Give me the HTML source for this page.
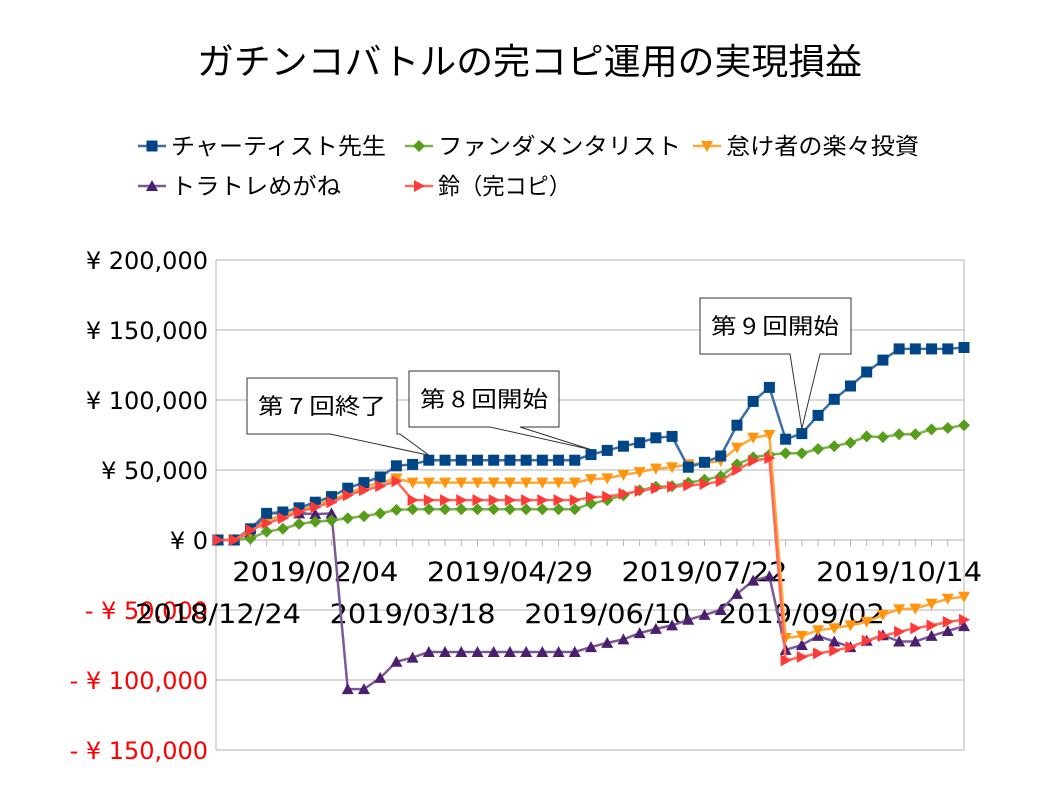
<!DOCTYPE html>
<html><head><meta charset="utf-8">
<style>
body{margin:0;background:#fff;}
svg{display:block;font-family:"DejaVu Sans","Noto Sans CJK JP",sans-serif;}
</style></head>
<body>
<svg id="chart" width="1058" height="794" viewBox="0 0 1058 794" xmlns="http://www.w3.org/2000/svg">
<rect width="1058" height="794" fill="#fff"/>
<text x="197" y="74" font-size="36" textLength="665" lengthAdjust="spacingAndGlyphs" font-family="Noto Sans CJK JP, sans-serif">ガチンコバトルの完コピ運用の実現損益</text>
<g id="legend"></g>
<g id="grid"></g>
<g id="series"></g>
<g id="callouts"></g>
</svg>
<script>
const seriesNames = ["チャーティスト先生","ファンダメンタリスト","怠け者の楽々投資","トラトレめがね","鈴（完コピ）"];
const chartist = [0,0,8000,19000,20000,23000,27000,31000,37000,41000,45000,53000,54000,57000,57000,57000,57000,57000,57000,57000,57000,57000,57000,61000,64000,67000,69500,73000,74000,52000,55500,60000,82000,99000,109000,72000,76000,89000,100500,110000,120000,128500,136500,136500,136500,136500,137500];
const fundamental = [0,0,1000,6000,8000,11500,13000,14000,15500,17000,19000,21500,22000,22000,22000,22000,22000,22000,22000,22000,22000,22000,22000,26000,28500,32000,35500,38000,38500,41000,43000,45500,54000,59000,61000,62000,62000,65000,67000,69500,74000,73500,75500,75500,79000,80000,82000];
const lazy = [0,0,6000,14000,18000,21000,25000,29000,33000,38000,41000,44000,41000,41000,41000,41000,41000,41000,41000,41000,41000,41000,41000,43500,44000,46500,48500,51000,52000,54000,55000,56500,66000,73000,75000,-70000,-68500,-64500,-63000,-61000,-58500,-53500,-49500,-49000,-45500,-42000,-40500];
const toratore = [0,0,5000,19000,19000,19000,18500,19000,-106500,-106500,-98500,-87000,-84000,-80000,-80000,-80000,-80000,-80000,-80000,-80000,-80000,-80000,-80000,-76500,-73500,-71000,-66500,-63500,-61000,-57000,-53500,-50000,-38500,-29000,-26000,-78500,-75000,-68500,-72500,-76500,-72000,-68000,-72500,-72500,-68500,-65000,-61500];
const suzu = [0,0,7000,12000,15500,20000,23500,27000,32000,35500,38500,42000,28500,28500,28500,28500,28500,28500,28500,28500,28500,28500,28500,30500,31000,33000,35000,37000,38000,39000,40000,42000,50000,56500,58500,-86000,-83500,-81000,-79000,-76500,-72000,-68500,-65500,-63000,-61000,-58500,-57000];
const yTicks = [200000,150000,100000,50000,0,-50000,-100000,-150000];
const yTickLabels = ["¥ 200,000","¥ 150,000","¥ 100,000","¥ 50,000","¥ 0","- ¥ 50,000","- ¥ 100,000","- ¥ 150,000"];
const xLabelIdx = [0,6,12,18,24,30,36,42];
const xLabels = ["2018/12/24","2019/02/04","2019/03/18","2019/04/29","2019/06/10","2019/07/22","2019/09/02","2019/10/14"];
const calloutText = ["第 7 回終了","第 8 回開始","第 9 回開始"];
const calloutIdx = [13,23,36];

const NS="http://www.w3.org/2000/svg";
const X0=218, X1=964, PL=216, PT=260, PB=750;
const N=chartist.length;
function xs(i){return X0+(X1-X0)*i/(N-1);}
function ys(v){return 540-(v/50000)*70;}
function mk(tag,attrs,parent){const e=document.createElementNS(NS,tag);for(const k in attrs)e.setAttribute(k,attrs[k]);parent.appendChild(e);return e;}
const grid=document.getElementById('grid');
yTicks.forEach((v,k)=>{
  const l=mk('line',{x1:PL,x2:X1,y1:ys(v),y2:ys(v),stroke:'#b3b3b3','stroke-width':1},grid);
  
  
  const t=mk('text',{x:208,y:ys(v)+9,'font-size':24,'text-anchor':'end',fill:v<0?'#ff0000':'#000'},grid);
  t.textContent=yTickLabels[k];
  
  
});
const ax=mk('line',{x1:PL,x2:PL,y1:PT,y2:PB,stroke:'#b3b3b3','stroke-width':1},grid);


const ax2=mk('line',{x1:X1,x2:X1,y1:PT,y2:PB,stroke:'#b3b3b3','stroke-width':1},grid);


for(let i=0;i<N;i++){
  const t=mk('line',{x1:xs(i),x2:xs(i),y1:540,y2:546,stroke:'#b3b3b3'},grid);
  
  
}
xLabelIdx.forEach((idx,k)=>{
  const t=mk('text',{x:xs(idx)-83,y:k%2? 581:623,'font-size':27,textLength:166,lengthAdjust:'spacingAndGlyphs'},grid);
  t.textContent=xLabels[k];
  
  
});
const colors=[['#3c6ea6','#004586','sq'],['#7fb24a','#579d1c','dia'],['#ffa73a','#ff950e','tri-down'],['#7a5a96','#4b1f6f','tri-up'],['#ff6a56','#ff3838','tri-right']];
const data=[chartist,fundamental,lazy,toratore,suzu];
function marker(type,x,y,c,parent){
  let e;
  if(type==='sq') e=mk('rect',{x:x-5.5,y:y-5.5,width:11,height:11,fill:c},parent);
  else if(type==='dia') e=mk('polygon',{points:`${x},${y-6} ${x+6},${y} ${x},${y+6} ${x-6},${y}`,fill:c},parent);
  else if(type==='tri-down') e=mk('polygon',{points:`${x-6},${y-5} ${x+6},${y-5} ${x},${y+6}`,fill:c},parent);
  else if(type==='tri-up') e=mk('polygon',{points:`${x-6},${y+5} ${x+6},${y+5} ${x},${y-6}`,fill:c},parent);
  else e=mk('polygon',{points:`${x-5},${y-6} ${x-5},${y+6} ${x+6},${y}`,fill:c},parent);
  return e;
}
const sg=document.getElementById('series');
const order=[3,1,2,0,4];
order.forEach(s=>{
  const g=mk('g',{},sg);
  
  
  const pts=data[s].map((v,i)=>xs(i)+','+ys(v)).join(' ');
  const pl=mk('polyline',{points:pts,fill:'none',stroke:colors[s][0],'stroke-width':2.5},g);
  
  
  data[s].forEach((v,i)=>{
    const m=marker(colors[s][2],xs(i),ys(v),colors[s][1],g);
    
    
  });
});
const lg=document.getElementById('legend');
const lpos=[[138,146],[405,146],[693,146],[138,186],[405,186]];
const lwid=[215,243,193,170,133];
lpos.forEach((p,s)=>{
  const g=mk('g',{},lg);
  
  
  mk('line',{x1:p[0],x2:p[0]+28,y1:p[1],y2:p[1],stroke:colors[s][0],'stroke-width':2.5},g);
  marker(colors[s][2],p[0]+14,p[1],colors[s][1],g);
  const t=mk('text',{x:p[0]+33,y:p[1]+8,'font-size':23,'font-family':'Noto Sans CJK JP, sans-serif',textLength:lwid[s],lengthAdjust:'spacingAndGlyphs'},g);
  t.textContent=seriesNames[s];
});
const cg=document.getElementById('callouts');
const boxes=[[247,378,150,56],[409,371,150,56],[700,298,151,56]];
const tails=[[330,400],[490,520],[790,820]];
boxes.forEach((b,k)=>{
  const g=mk('g',{},cg);
  
  
  const px=xs(calloutIdx[k]), py=ys(chartist[calloutIdx[k]])-5;
  const [x,y,w,h]=b;const [t1,t2]=tails[k];
  const d=`M${x},${y} H${x+w} V${y+h} H${t2} L${px},${py} L${t1},${y+h} H${x} Z`;
  mk('path',{d:d,fill:'#fff',stroke:'#333','stroke-width':1},g);
  const t=mk('text',{x:x+11,y:y+h/2+8,'font-size':22,'font-family':'Noto Sans CJK JP, sans-serif',textLength:128,lengthAdjust:'spacingAndGlyphs'},g);
  t.textContent=calloutText[k];
});
</script>
</body></html>
